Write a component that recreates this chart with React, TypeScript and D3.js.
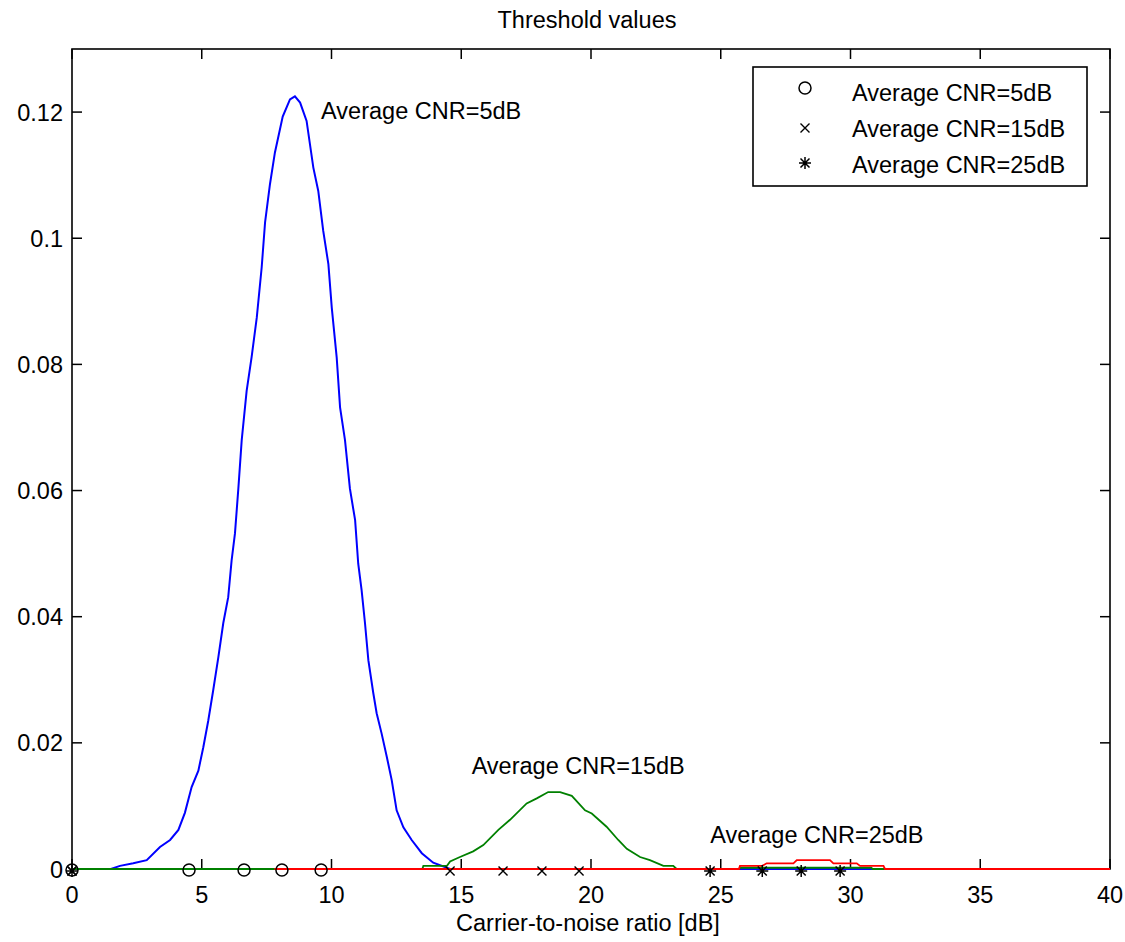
import React from "react";
import * as d3 from "d3";

// ---- data ----
const blueX = [0, 1.5, 1.85, 2.36, 2.88, 3.39, 3.78, 4.1, 4.35, 4.61, 4.87, 5.06, 5.25, 5.44, 5.64, 5.83, 6.02, 6.15, 6.28, 6.41, 6.54, 6.73, 6.92, 7.12, 7.31, 7.44, 7.63, 7.82, 8.12, 8.4, 8.59, 8.79, 9.04, 9.3, 9.49, 9.68, 9.88, 10.01, 10.2, 10.33, 10.52, 10.71, 10.91, 11.03, 11.16, 11.29, 11.42, 11.61, 11.74, 11.93, 12.13, 12.32, 12.51, 12.77, 13.09, 13.48, 13.92, 14.57, 40];
const blueY = [0, 0, 0.0005, 0.0009, 0.0014, 0.0035, 0.0046, 0.0062, 0.0089, 0.013, 0.0156, 0.0193, 0.0235, 0.0283, 0.0336, 0.039, 0.0431, 0.0489, 0.0532, 0.0603, 0.068, 0.0758, 0.0811, 0.0874, 0.0954, 0.1025, 0.1086, 0.1136, 0.1193, 0.122, 0.1225, 0.1215, 0.1186, 0.1112, 0.1075, 0.1012, 0.0959, 0.089, 0.0811, 0.0732, 0.068, 0.0603, 0.0553, 0.0484, 0.0442, 0.039, 0.0331, 0.0279, 0.0247, 0.0215, 0.0178, 0.0141, 0.0093, 0.0066, 0.0046, 0.0025, 0.001, 0, 0];

const greenX = [0, 13.5, 13.54, 14.45, 14.57, 14.95, 15.46, 15.85, 16.43, 16.88, 17.52, 17.91, 18.35, 18.81, 19.26, 19.77, 20.03, 20.6, 21.05, 21.38, 21.89, 22.27, 22.79, 23.17, 23.3, 25.7, 25.75, 30.8, 30.85, 40];
const greenY = [0, 0, 0.0005, 0.0005, 0.0012, 0.0019, 0.0028, 0.0038, 0.0062, 0.0078, 0.0104, 0.0112, 0.0122, 0.0122, 0.0116, 0.0093, 0.0088, 0.0067, 0.0046, 0.0032, 0.0019, 0.0014, 0.0005, 0.0005, 0, 0, 0.0002, 0.0002, 0, 0];

const redX = [7.8, 25.7, 25.74, 26.6, 26.77, 27.8, 27.93, 29.21, 29.34, 30.24, 30.37, 31.27, 31.33, 40];
const redY = [0, 0, 0.0005, 0.0005, 0.0009, 0.0009, 0.0014, 0.0014, 0.0009, 0.0009, 0.0005, 0.0005, 0, 0];

const circleX = [0, 4.51, 6.63, 8.09, 9.6];
const crossX = [0, 14.57, 16.61, 18.11, 19.54];
const starX = [0, 24.59, 26.6, 28.1, 29.6];

const xTicks = [0, 5, 10, 15, 20, 25, 30, 35, 40];
const yTicks = [0, 0.02, 0.04, 0.06, 0.08, 0.1, 0.12];
const yTickLabels = ["0", "0.02", "0.04", "0.06", "0.08", "0.1", "0.12"];
const legendLabels = ["Average CNR=5dB", "Average CNR=15dB", "Average CNR=25dB"];
const annotations = [
  { text: "Average CNR=5dB", x: 9.6, y: 0.1189 },
  { text: "Average CNR=15dB", x: 15.4, y: 0.0151 },
  { text: "Average CNR=25dB", x: 24.6, y: 0.0042 },
];

const W = 1125;
const H = 942;
const FONT = "'Liberation Sans', Arial, sans-serif";

function Circle({ cx, cy }: { cx: number; cy: number }) {
  return <circle cx={cx} cy={cy} r={6} fill="none" stroke="#000" strokeWidth={1.5} />;
}
function Cross({ cx, cy }: { cx: number; cy: number }) {
  const s = 4.5;
  return (
    <path d={`M${cx - s},${cy - s}L${cx + s},${cy + s}M${cx - s},${cy + s}L${cx + s},${cy - s}`} stroke="#000" strokeWidth={1.4} />
  );
}
function Star({ cx, cy }: { cx: number; cy: number }) {
  const s = 6;
  const d = 4.5;
  return (
    <path
      d={`M${cx - s},${cy}L${cx + s},${cy}M${cx},${cy - s}L${cx},${cy + s}M${cx - d},${cy - d}L${cx + d},${cy + d}M${cx - d},${cy + d}L${cx + d},${cy - d}`}
      stroke="#000"
      strokeWidth={1.5}
    />
  );
}

export default function App() {
  const left = 72, right = 1110, top = 49, bottom = 869;
  const x = d3.scaleLinear().domain([0, 40]).range([left, right]);
  const y = d3.scaleLinear().domain([0, 0.13]).range([bottom, top]);
  const line = d3
    .line<[number, number]>()
    .x((d) => x(d[0]))
    .y((d) => y(d[1]));
  const zip = (a: number[], b: number[]) => a.map((v, i) => [v, b[i]] as [number, number]);
  const tick = 10;

  return (
    <svg width={W} height={H} style={{ position: "absolute", left: 0, top: 0, background: "#fff" }} fontFamily={FONT}>
      <rect x={0} y={0} width={W} height={H} fill="#fff" />
      {/* title */}
      <text x={587} y={28} textAnchor="middle" fontSize={23.5}>
        Threshold values
      </text>
      {/* axes box */}
      <rect x={left} y={top} width={right - left} height={bottom - top} fill="none" stroke="#000" strokeWidth={1.6} />
      {xTicks.map((t) => (
        <g key={"xt" + t}>
          <line x1={x(t)} x2={x(t)} y1={bottom} y2={bottom - tick} stroke="#000" strokeWidth={1.5} />
          <line x1={x(t)} x2={x(t)} y1={top} y2={top + tick} stroke="#000" strokeWidth={1.5} />
          <text x={x(t)} y={903} textAnchor="middle" fontSize={23.5}>
            {t}
          </text>
        </g>
      ))}
      {yTicks.map((t, i) => (
        <g key={"yt" + t}>
          <line x1={left} x2={left + tick} y1={y(t)} y2={y(t)} stroke="#000" strokeWidth={1.5} />
          <line x1={right} x2={right - tick} y1={y(t)} y2={y(t)} stroke="#000" strokeWidth={1.5} />
          <text x={63} y={y(t) + 8.5} textAnchor="end" fontSize={23.5}>
            {yTickLabels[i]}
          </text>
        </g>
      ))}
      <text x={588} y={931} textAnchor="middle" fontSize={23.5}>
        Carrier-to-noise ratio [dB]
      </text>

      {/* curves */}
      <path d={line(zip(blueX, blueY)) || ""} fill="none" stroke="#0000ff" strokeWidth={2} />
      <path d={line(zip(greenX, greenY)) || ""} fill="none" stroke="#008000" strokeWidth={1.8} />
      <path d={line(zip(redX, redY)) || ""} fill="none" stroke="#ff0000" strokeWidth={1.8} />

      {/* markers */}
      {circleX.map((v, i) => (
        <Circle key={"c" + i} cx={x(v)} cy={y(0) + 1} />
      ))}
      {crossX.map((v, i) => (
        <Cross key={"x" + i} cx={x(v)} cy={y(0) + 2} />
      ))}
      {starX.map((v, i) => (
        <Star key={"s" + i} cx={x(v)} cy={y(0) + 2} />
      ))}

      {/* annotations */}
      {annotations.map((a) => (
        <text key={a.text} x={x(a.x)} y={y(a.y)} fontSize={23.5}>
          {a.text}
        </text>
      ))}

      {/* legend */}
      <rect x={753} y={67} width={334} height={119} fill="#fff" stroke="#000" strokeWidth={1.6} />
      <Circle cx={805} cy={88} />
      <Cross cx={805} cy={128} />
      <Star cx={805} cy={163} />
      {legendLabels.map((l, i) => (
        <text key={l} x={852} y={101 + i * 36} fontSize={23.5}>
          {l}
        </text>
      ))}
    </svg>
  );
}
